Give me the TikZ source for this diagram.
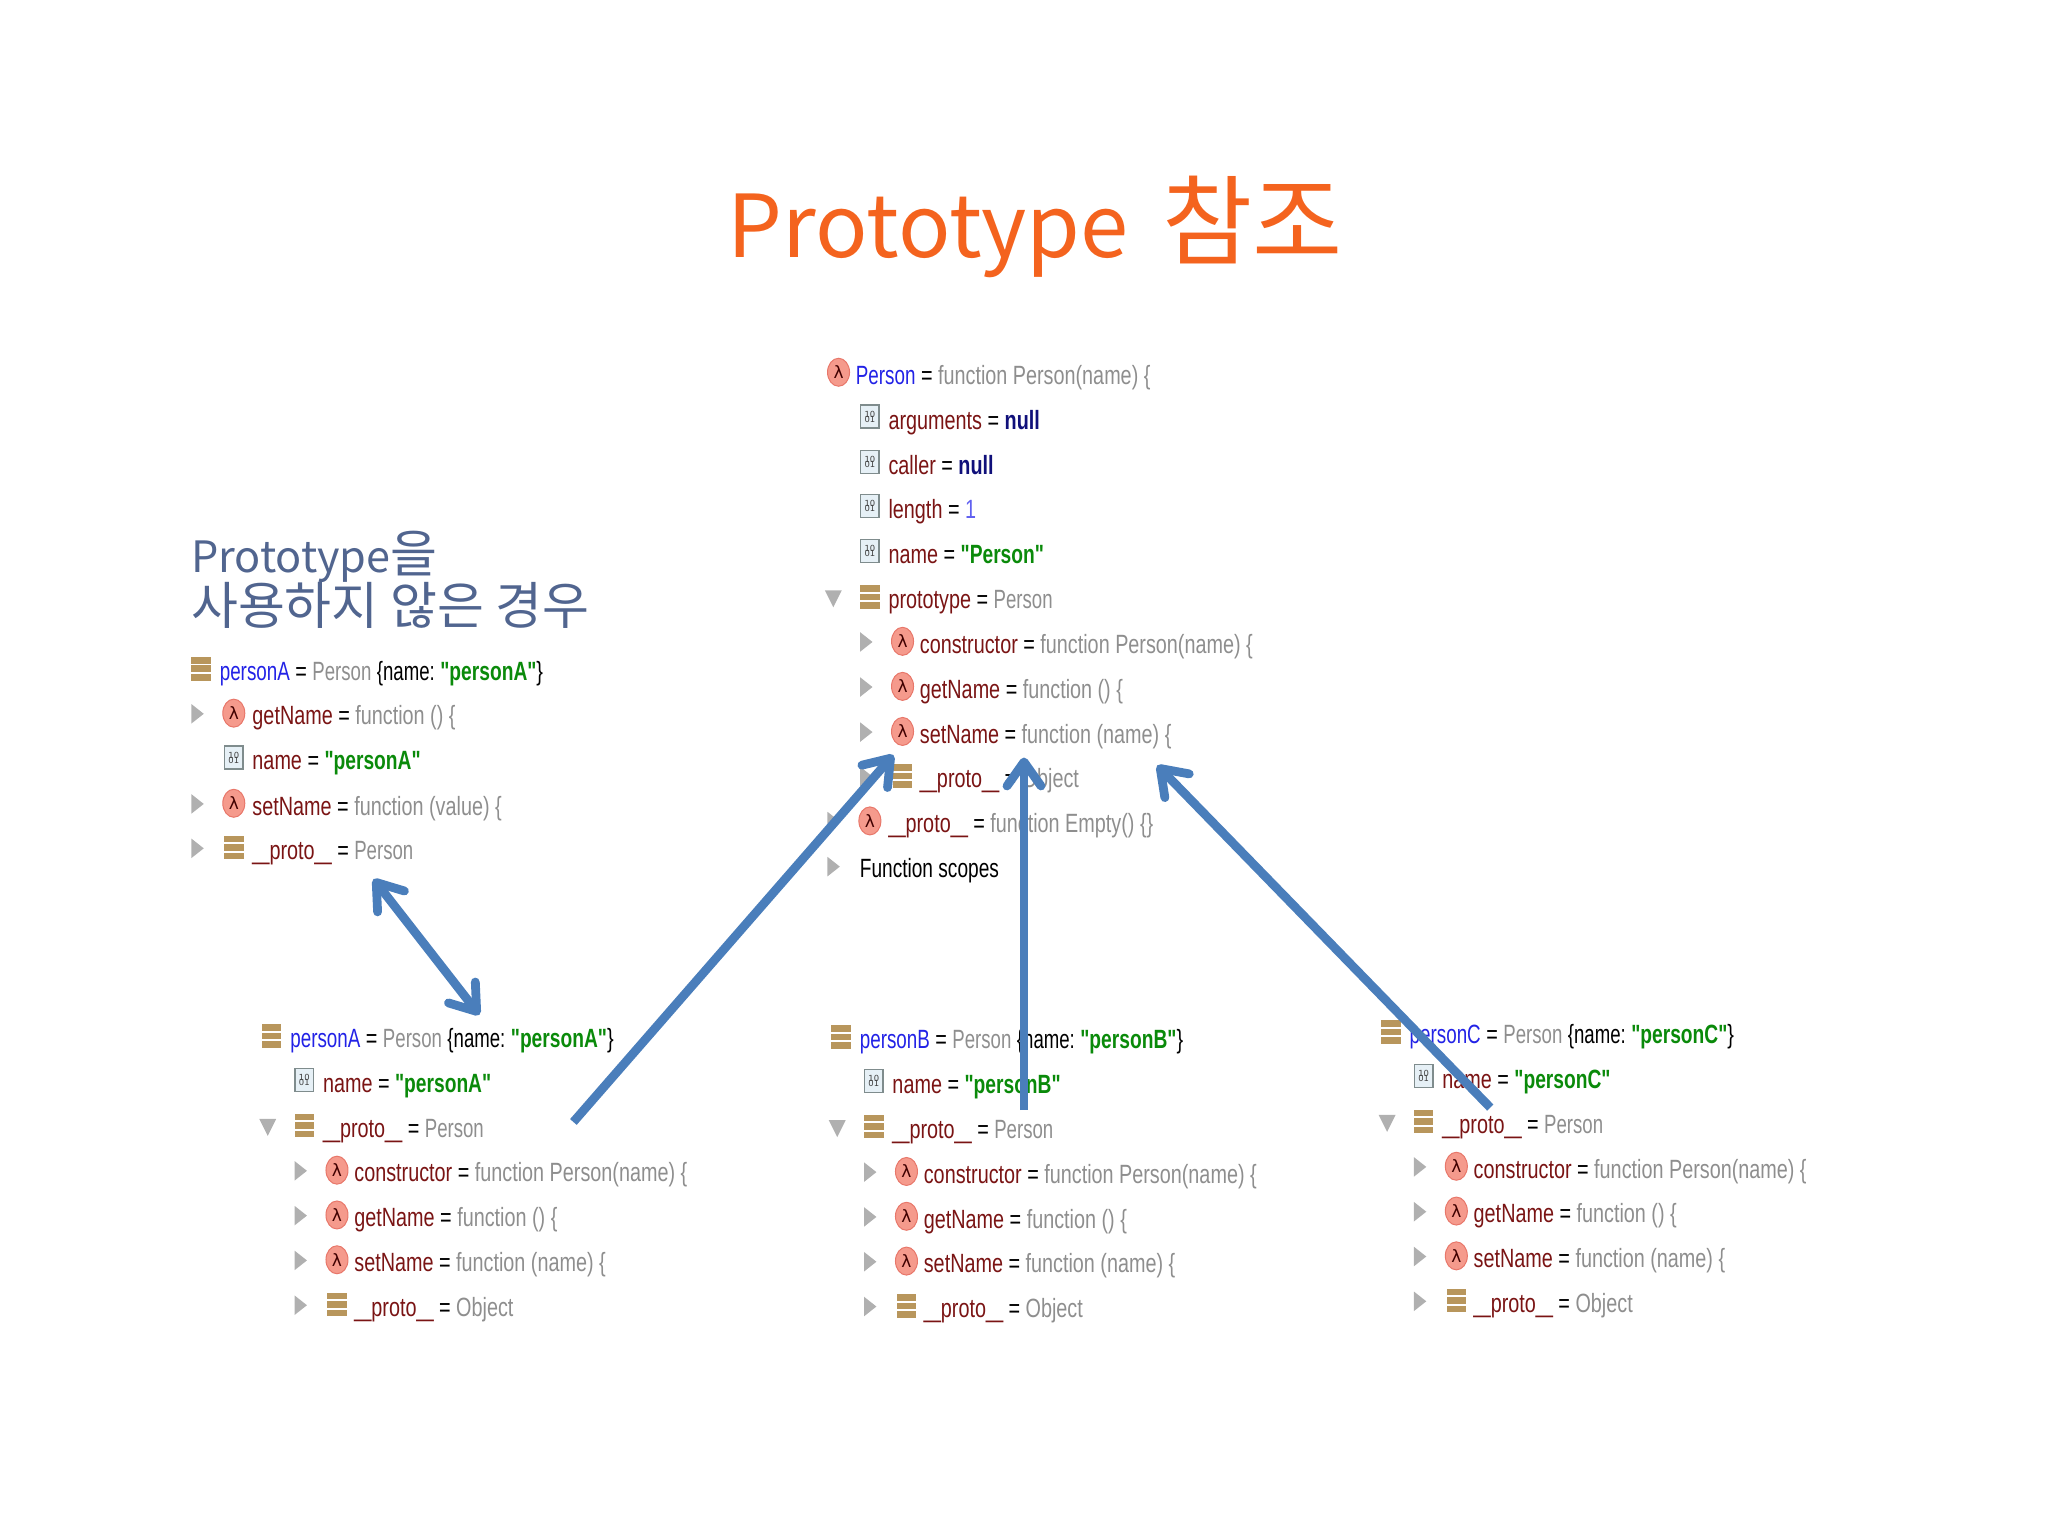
\documentclass[tikz,border=0pt]{standalone}
\usepackage{fontspec}
\usetikzlibrary{arrows.meta,shapes.geometric}
\setmainfont{Liberation Sans}
\newfontfamily\krfont{Noto Sans CJK KR}
\newfontfamily\codefont[FakeStretch=0.75]{Liberation Sans}
\newfontfamily\iconfont{DejaVu Sans}
\definecolor{titleorange}{HTML}{F4631E}
\definecolor{subblue}{HTML}{51658F}
\definecolor{arrowblue}{HTML}{4A7EBB}
\definecolor{nmred}{HTML}{7A1414}
\definecolor{valgray}{HTML}{8E8E8E}
\definecolor{rootblue}{HTML}{2222E6}
\definecolor{strgreen}{HTML}{0A8A0A}
\definecolor{nullnavy}{HTML}{10107A}
\definecolor{numblue}{HTML}{6060F0}
\definecolor{tan}{HTML}{B8965C}
\definecolor{lampink}{HTML}{F59A8C}
\definecolor{lamedge}{HTML}{E8776A}
\definecolor{fldfill}{HTML}{E6F0F6}
\definecolor{fldedge}{HTML}{7F8C8D}
\definecolor{toggray}{HTML}{B0B0B0}
\newcommand{\nm}[1]{\textcolor{nmred}{#1}}
\newcommand{\eqs}{\ =\ }
\newcommand{\vl}[1]{\textcolor{valgray}{#1}}
\newcommand{\rt}[1]{\textcolor{rootblue}{\scalebox{.95}[1]{#1}}}
\newcommand{\str}[1]{\textcolor{strgreen}{\scalebox{.97}[1]{\bfseries #1}}}
\newcommand{\nul}{\textcolor{nullnavy}{\bfseries null}}
\newcommand{\uscore}{\scalebox{1.55}[1]{\_}}
\newcommand{\protoname}{\nm{\uscore proto\uscore}}
\newcommand{\pers}{\vl{\scalebox{.94}[1]{Person}}}
\newcommand{\namebrace}{\textcolor{black}{\scalebox{.94}[1]{\{name:} }}
\newcount\rowno
\newcount\icnno
% toggles
\newcommand{\togr}[2]{\fill[toggray] (#1-4.5,#2-9) -- (#1+5,#2-1.5) -- (#1-4.5,#2+6) -- cycle;}
\newcommand{\togd}[2]{\fill[toggray] (#1-6.5,#2-7) -- (#1+6.5,#2-7) -- (#1,#2+6) -- cycle;}
% icons
\newcommand{\icolam}[2]{\global\advance\icnno by 1
  \node[lamicon] (ic\the\icnno) at (#1,#2-2) {λ};}
\newcommand{\icofld}[2]{\global\advance\icnno by 1
  \node[fldicon] (ic\the\icnno) at (#1,#2-2.5) {10\\[-1.4pt]01};}
\newcommand{\icoobj}[2]{%
  \fill[tan] (#1-7.5,#2-11) rectangle (#1+7.5,#2-6);
  \fill[tan] (#1-7.5,#2-4.5) rectangle (#1+7.5,#2+0.5);
  \fill[tan] (#1-7.5,#2+2) rectangle (#1+7.5,#2+7);}
% text of a row
\newcommand{\rowtext}[3]{\global\advance\rowno by 1
  \node[codetext] (t\the\rowno) at (#1,#2+7) {#3};}
% level 0, 1 and 2 rows: origin x, y, text
\newcommand{\rootobj}[3]{\icoobj{#1+3}{#2}\rowtext{#1+17}{#2}{#3}}
\newcommand{\rootlam}[3]{\icolam{#1+4}{#2}\rowtext{#1+17}{#2}{#3}}
\newcommand{\lonefld}[3]{\icofld{#1+28}{#2}\rowtext{#1+42}{#2}{#3}}
\newcommand{\lonelam}[3]{\togr{#1}{#2}\icolam{#1+28}{#2}\rowtext{#1+42}{#2}{#3}}
\newcommand{\loneobjr}[3]{\togr{#1}{#2}\icoobj{#1+28}{#2}\rowtext{#1+42}{#2}{#3}}
\newcommand{\loneobjd}[3]{\togd{#1}{#2}\icoobj{#1+28}{#2}\rowtext{#1+42}{#2}{#3}}
\newcommand{\ltwolam}[3]{\togr{#1+25}{#2}\icolam{#1+53}{#2}\rowtext{#1+66}{#2}{#3}}
\newcommand{\ltwoobj}[3]{\togr{#1+25}{#2}\icoobj{#1+53}{#2}\rowtext{#1+66}{#2}{#3}}
% a person block
\newcommand{\personblock}[3]{% ox, y0, name
  \rootobj{#1}{#2}{\rt{#3}\eqs\pers\ \namebrace\str{"#3"}\textcolor{black}{\}}}
  \lonefld{#1}{#2+34.3}{\nm{name}\eqs\str{"#3"}}
  \loneobjd{#1}{#2+68.6}{\protoname\eqs\pers}
  \ltwolam{#1}{#2+102.9}{\nm{constructor}\eqs\vl{function Person(name) \{}}
  \ltwolam{#1}{#2+137.2}{\nm{getName}\eqs\vl{function () \{}}
  \ltwolam{#1}{#2+171.5}{\nm{setName}\eqs\vl{function (name) \{}}
  \ltwoobj{#1}{#2+205.8}{\protoname\eqs\vl{Object}}
}
\newcommand{\hgT}[1]{{\fontsize{49pt}{54pt}\selectfont #1}}
\newcommand{\hgS}[1]{{\fontsize{25.5pt}{29pt}\selectfont #1}}
\tikzset{
  x=0.65306pt,y=-0.65306pt,
  codetext/.style={anchor=base west,inner sep=0pt,font=\codefont\fontsize{13.2pt}{15pt}\selectfont},
  lamicon/.style={ellipse,draw=lamedge,fill=lampink,line width=0.5pt,inner sep=0pt,minimum width=11pt,minimum height=14pt,font=\iconfont\fontsize{8.5pt}{9pt}\selectfont,text=black!75!red},
  fldicon/.style={rectangle,draw=fldedge,fill=fldfill,line width=0.7pt,inner sep=0pt,minimum width=9.2pt,minimum height=11.5pt,align=center,font=\iconfont\fontsize{4.2pt}{4pt}\selectfont,text=black!75},
  maintitle/.style={anchor=base west,inner sep=0pt,text=titleorange,font=\krfont\fontsize{43.4pt}{54pt}\selectfont},
  subtitle/.style={anchor=base west,inner sep=0pt,text=subblue,font=\krfont\fontsize{21.6pt}{29pt}\selectfont},
  bluearrow/.style={draw=arrowblue,line width=4.4pt,-{Straight Barb[length=12pt,width=17pt,round]}},
  bluearrowtwo/.style={draw=arrowblue,line width=4.4pt,{Straight Barb[length=12pt,width=17pt,round]}-{Straight Barb[length=12pt,width=17pt,round]}},
}
\begin{document}
\begin{tikzpicture}
\useasboundingbox (0,0) rectangle (1568,1176);
\node[maintitle] (title) at (557,197) {Prototype\hspace{17pt}\hgT{참조}};
\node[subtitle] (subone) at (146,438) {Prototype\hgS{을}};
\node[subtitle] (subtwo) at (146,478) {\hgS{사용하지 않은 경우}};

% first tree
\rootobj{151}{514}{\rt{personA}\eqs\pers\ \namebrace\str{"personA"}\textcolor{black}{\}}}
\lonelam{151}{548}{\nm{getName}\eqs\vl{function () \{}}
\lonefld{151}{582.5}{\nm{name}\eqs\str{"personA"}}
\lonelam{151}{617}{\nm{setName}\eqs\vl{function (value) \{}}
\loneobjr{151}{651}{\protoname\eqs\pers}

% top tree
\rootlam{638}{287}{\rt{Person}\eqs\vl{function Person(name) \{}}
\lonefld{638}{321.5}{\nm{arguments}\eqs\nul}
\lonefld{638}{356}{\nm{caller}\eqs\nul}
\lonefld{638}{390}{\nm{length}\eqs\textcolor{numblue}{1}}
\lonefld{638}{424.5}{\nm{name}\eqs\str{"Person"}}
\loneobjd{638}{459}{\nm{prototype}\eqs\pers}
\ltwolam{638}{493}{\nm{constructor}\eqs\vl{function Person(name) \{}}
\ltwolam{638}{527.5}{\nm{getName}\eqs\vl{function () \{}}
\ltwolam{638}{562}{\nm{setName}\eqs\vl{function (name) \{}}
\ltwoobj{638}{596}{\protoname\eqs\vl{Object}}
\lonelam{638}{630.5}{\protoname\eqs\vl{function Empty() \{\}}}
\togr{638}{665}
\rowtext{658}{665}{\scalebox{.965}[1]{Function scopes}}

% lower trees
\personblock{205}{795}{personA}
\personblock{641}{796}{personB}
\personblock{1062}{792}{personC}

% arrows
\coordinate (aa) at (286,673);
\coordinate (ab) at (367,777);
\coordinate (ba) at (439,859);
\coordinate (bb) at (684,578);
\coordinate (ca) at (784,850);
\coordinate (cb) at (784,580);
\coordinate (da) at (1141,848);
\coordinate (db) at (886,586);
\draw[bluearrowtwo] (aa) -- (ab);
\draw[bluearrow] (ba) -- (bb);
\draw[bluearrow] (ca) -- (cb);
\draw[bluearrow] (da) -- (db);
\end{tikzpicture}
\end{document}
